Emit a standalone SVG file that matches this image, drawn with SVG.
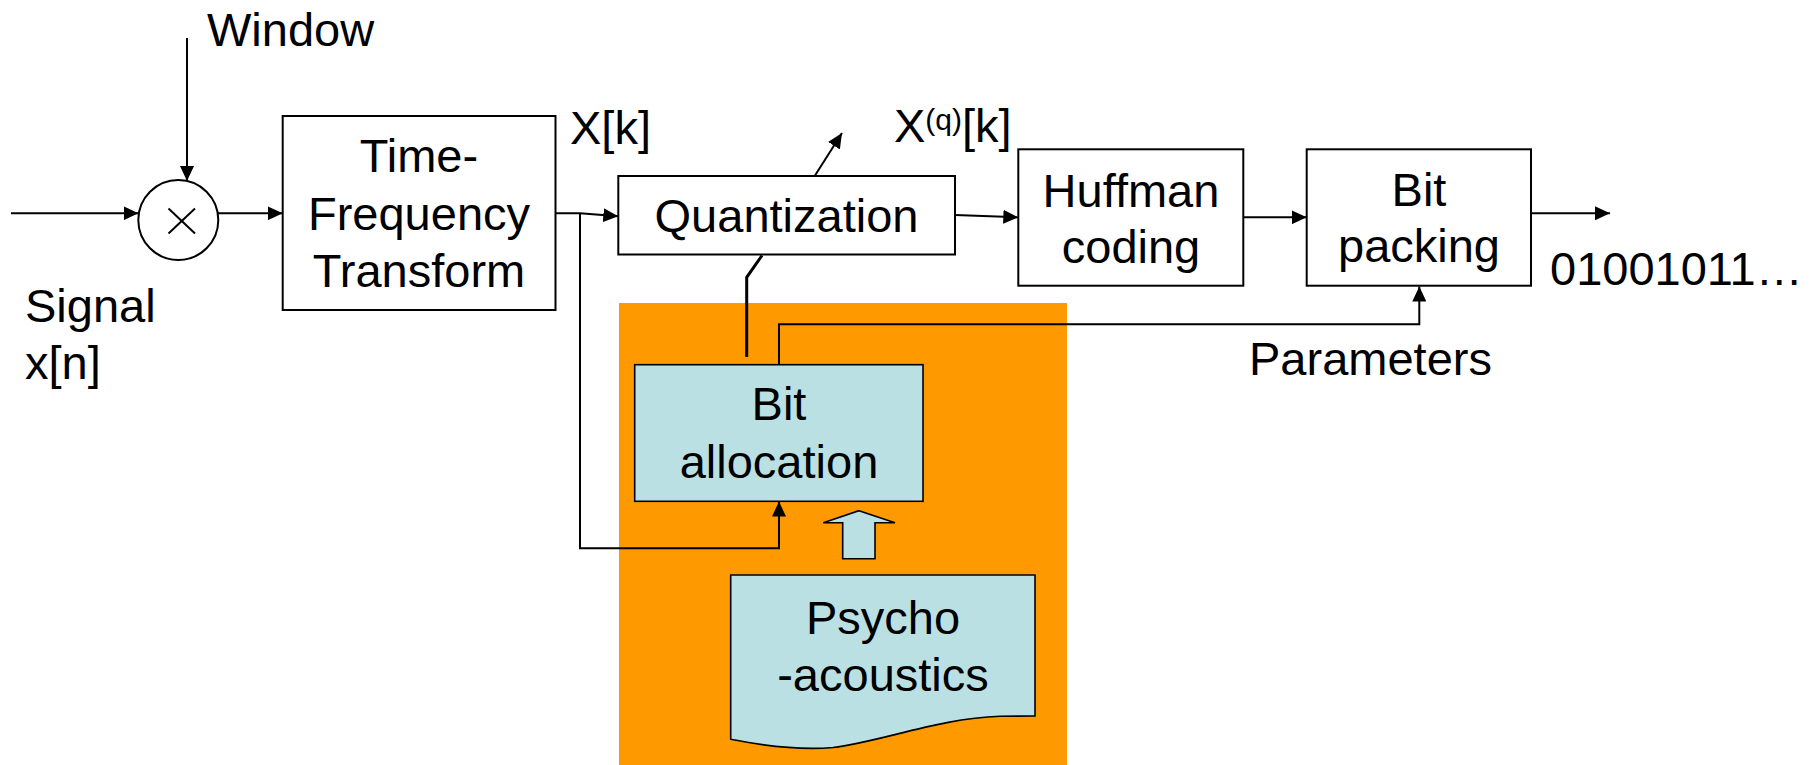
<svg xmlns="http://www.w3.org/2000/svg" width="1820" height="765" viewBox="0 0 1820 765">
  <defs>
    <marker id="arrow" markerUnits="userSpaceOnUse" markerWidth="16" markerHeight="14" refX="15" refY="7" orient="auto">
      <path d="M0,0 L15,7 L0,14 z" fill="#000"/>
    </marker>
    <style>
      .box { fill: #fff; stroke: #000; stroke-width: 2; }
      .cyan { fill: #BBE0E3; stroke: #000; stroke-width: 1.6; }
      .wire { fill: none; stroke: #000; stroke-width: 2; }
      .thick { fill: none; stroke: #000; stroke-width: 3; }
      text { font-family: "Liberation Sans", Arial, sans-serif; font-size: 47px; fill: #000; }
      .mid { text-anchor: middle; }
      .sup { font-size: 30px; }
    </style>
  </defs>

  <rect width="1820" height="765" fill="#fff"/>

  <!-- psychoacoustic model region -->
  <g id="model-region">
    <rect x="619" y="303" width="448" height="462" fill="#FF9900"/>
  </g>

  <!-- connectors -->
  <g id="connectors">
    <line class="wire" x1="187" y1="38" x2="187" y2="181" marker-end="url(#arrow)"/>
    <line class="wire" x1="11" y1="213.3" x2="138.5" y2="213.3" marker-end="url(#arrow)"/>
    <line class="wire" x1="218" y1="213.3" x2="282.7" y2="213.3" marker-end="url(#arrow)"/>
    <path class="wire" d="M555.5,213.3 L580,213.3 L618.3,216.3" marker-end="url(#arrow)"/>
    <path class="wire" d="M580,213.3 V548.3 H779 V501.5" marker-end="url(#arrow)"/>
    <line class="wire" x1="815" y1="175.5" x2="842" y2="133" marker-end="url(#arrow)"/>
    <path class="thick" d="M762,255.5 L746.7,277.3 V357"/>
    <line class="wire" x1="955" y1="215" x2="1018.3" y2="217.3" marker-end="url(#arrow)"/>
    <line class="wire" x1="1243.3" y1="217.3" x2="1306.7" y2="217.3" marker-end="url(#arrow)"/>
    <line class="wire" x1="1531" y1="213.3" x2="1610" y2="213.3" marker-end="url(#arrow)"/>
    <path class="wire" d="M779,364.7 V324.3 H1419.3 V286.5" marker-end="url(#arrow)"/>
    <!-- hollow block arrow from the psychoacoustic model -->
    <path class="cyan" d="M859,510.7 L895,522.7 L875,522.7 L875,558.7 L842.7,558.7 L842.7,522.7 L823.3,522.7 Z"/>
  </g>

  <!-- nodes -->
  <g id="window-label">
    <text x="207" y="46">Window</text>
  </g>

  <g id="multiplier">
    <circle cx="178.3" cy="220" r="40" fill="#fff" stroke="#000" stroke-width="2"/>
    <line x1="168.5" y1="208.5" x2="195" y2="233.5" stroke="#000" stroke-width="2"/>
    <line x1="195" y1="208.5" x2="168.5" y2="233.5" stroke="#000" stroke-width="2"/>
  </g>

  <g id="signal-label">
    <text x="25" y="322">Signal</text>
    <text x="25" y="378.5">x[n]</text>
  </g>

  <g id="tf-transform">
    <rect class="box" x="282.7" y="116" width="272.8" height="194"/>
    <text class="mid" x="419" y="172">Time-</text>
    <text class="mid" x="419" y="229.5">Frequency</text>
    <text class="mid" x="419" y="287">Transform</text>
  </g>

  <g id="xk-label">
    <text x="570" y="144">X[k]</text>
  </g>

  <g id="quantization">
    <rect class="box" x="618.3" y="176" width="336.7" height="78.5"/>
    <text class="mid" x="786.5" y="231.7">Quantization</text>
  </g>

  <g id="xqk-label">
    <text x="894" y="142">X<tspan class="sup" dy="-12">(q)</tspan><tspan dy="12">[k]</tspan></text>
  </g>

  <g id="huffman">
    <rect class="box" x="1018.3" y="149.3" width="225" height="136.4"/>
    <text class="mid" x="1131" y="206.7">Huffman</text>
    <text class="mid" x="1131" y="263.3">coding</text>
  </g>

  <g id="bit-packing">
    <rect class="box" x="1306.7" y="149.3" width="224.3" height="136.4"/>
    <text class="mid" x="1419" y="206">Bit</text>
    <text class="mid" x="1419" y="261.7">packing</text>
  </g>

  <g id="bitstream-label">
    <text x="1550" y="285">01001011…</text>
  </g>

  <g id="parameters-label">
    <text x="1249" y="374.5">Parameters</text>
  </g>

  <g id="bit-allocation">
    <rect class="cyan" x="634.7" y="364.7" width="288.3" height="136.6"/>
    <text class="mid" x="779" y="420">Bit</text>
    <text class="mid" x="779" y="478.3">allocation</text>
  </g>

  <g id="psychoacoustics">
    <path class="cyan" d="M730.7,575 H1035 V716 L1000,716.3 C940,718 880,742 833,747.5 C800,750.5 765,746 730.7,739.3 Z"/>
    <text class="mid" x="883" y="634.3">Psycho</text>
    <text class="mid" x="883" y="690.7">-acoustics</text>
  </g>
</svg>
